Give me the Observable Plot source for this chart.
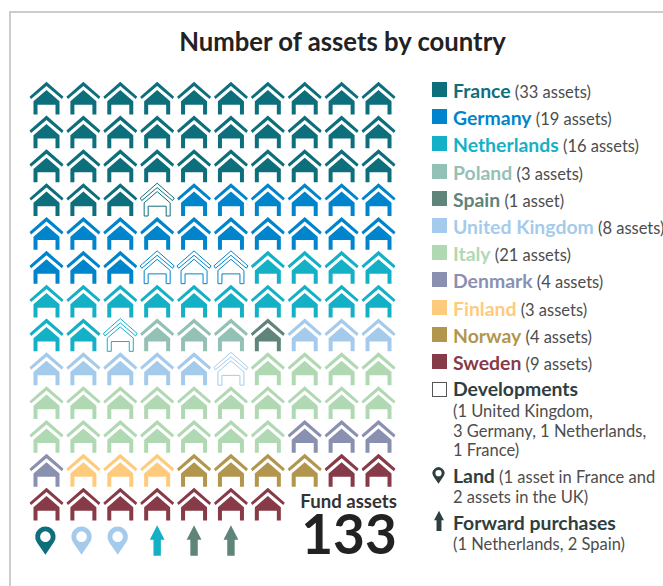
<!DOCTYPE html>
<html><head><meta charset="utf-8">
<script src="https://cdn.jsdelivr.net/npm/d3@7"></script>
<script src="https://cdn.jsdelivr.net/npm/@observablehq/plot@0.6"></script>
<style>
html,body{margin:0;padding:0;background:#fff;}
#page{position:relative;width:663px;height:586px;overflow:hidden;font-family:Lato,sans-serif;color:#4d4d4d;}
#frame{position:absolute;left:9px;top:11px;width:700px;height:700px;border:2px solid #ccc;box-sizing:border-box;}
#chart{position:absolute;left:0;top:0;}
#title{position:absolute;left:0;width:685px;top:24.5px;text-align:center;font-weight:700;font-size:25.7px;color:#222;line-height:32px;white-space:nowrap;}
.row{position:absolute;left:453px;white-space:nowrap;font-size:16.5px;line-height:24px;}
.row b{font-size:19.4px;font-weight:700;}
.sw{position:absolute;left:432px;width:15px;height:15px;box-sizing:border-box;}
.ic{position:absolute;}
</style></head><body>
<div id="page"><div id="frame"></div><div id="chart"></div><div id="title">Number of assets by country</div><div id="legend"></div></div>
<script>
const countries=["France","Germany","Netherlands","Poland","Spain","United Kingdom","Italy","Denmark","Finland","Norway","Sweden"];
const assets=[33,19,16,3,1,8,21,4,3,4,9];
const developments=[1,3,1,0,0,1,0,0,0,0,0];
const colors=["#0e6f7c","#0085cc","#14b1c6","#94c1b6","#5f8479","#a5cbec","#b0d9b3","#8a90b0","#fecb7c","#b2964e","#873a47"];
const land=["France","United Kingdom","United Kingdom"];
const forward=["Netherlands","Spain","Spain"];
const fundTotal=133;
const perRow=10;

function poly(c,p){p.forEach((q,i)=>i?c.lineTo(q[0],q[1]):c.moveTo(q[0],q[1]));c.closePath();}
const house={draw(c){
  poly(c,[[0,-16.4],[17,-1.4],[15.4,1],[0,-12],[-15.4,1],[-17,-1.4]]);
  poly(c,[[0,-8],[13,3.2],[13,16.4],[9,16.4],[9,6.6],[-9,6.6],[-9,16.4],[-13,16.4],[-13,3.2]]);
}};
const pin={draw(c,s){const k=Math.sqrt(s)/16;
  c.moveTo(0,14*k);c.lineTo(-8.6*k,1.5*k);c.arc(0,-4*k,10.2*k,Math.PI*0.82,Math.PI*2.18);c.closePath();
  c.moveTo(5.3*k,-4*k);c.arc(0,-4*k,5.3*k,0,-Math.PI*2,true);c.closePath();
}};
const arrow={draw(c,s){const k=Math.sqrt(s)/16;
  poly(c,[[0,-15.5*k],[7.4*k,-1*k],[3.7*k,-1*k],[3.7*k,15*k],[-3.7*k,15*k],[-3.7*k,-1*k],[-7.4*k,-1*k]]);
}};

const cells=[];
countries.forEach((name,i)=>{
  for(let n=0;n<assets[i];n++)cells.push({name,dev:false});
  for(let n=0;n<developments[i];n++)cells.push({name,dev:true});
});
cells.forEach((d,i)=>{d.col=i%perRow;d.row=Math.floor(i/perRow);});
const iconRow=13.08;
const landItems=land.map((name,i)=>({name,col:i*0.98-0.03,row:iconRow}));
const forwardItems=forward.map((name,i)=>({name,col:i+3,row:iconRow}));

const chart=Plot.plot({
  width:663,height:586,margin:0,
  style:{background:"transparent",overflow:"visible"},
  x:{axis:null,domain:[0,9],range:[46,378]},
  y:{axis:null,domain:[0,12],range:[97.6,503.6]},
  color:{domain:countries,range:colors},
  marks:[
    Plot.dot(cells.filter(d=>!d.dev),{x:"col",y:"row",fill:"name",stroke:"none",symbol:house,r:10}),
    Plot.dot(cells.filter(d=>d.dev),{x:"col",y:"row",fill:"#fff",stroke:"name",strokeWidth:1,symbol:house,r:10}),
    Plot.dot(landItems,{x:"col",y:"row",fill:"name",stroke:"none",symbol:pin,r:9.03}),
    Plot.dot(forwardItems,{x:"col",y:"row",fill:"name",stroke:"none",symbol:arrow,r:9.03}),
    Plot.text(["Fund assets"],{x:8.19,y:11.93,text:d=>d,fontSize:18.6,fontWeight:700,fill:"#333",fontFamily:"Lato"}),
    Plot.text([fundTotal],{x:8.2,y:12.96,text:d=>String(d),fontSize:55,fontWeight:700,fill:"#222",fontFamily:"Lato"})
  ]
});
document.getElementById("chart").append(chart);

const leg=document.getElementById("legend");
countries.forEach((n,i)=>{
  const s=document.createElement("div");s.className="sw";s.style.top=Math.round(82+27.2*i)+"px";s.style.background=colors[i];leg.append(s);
  const r=document.createElement("div");r.className="row";r.style.top=(79+27.2*i)+"px";
  const b=document.createElement("b");b.textContent=n;b.style.color=colors[i];
  r.append(b," ("+assets[i]+(assets[i]===1?" asset)":" assets)"));leg.append(r);
});
function line(center,html){
  const r=document.createElement("div");r.className="row";r.style.top=(center-12)+"px";r.innerHTML=html;leg.append(r);
}
const B=t=>"<b style='color:#2f3e3e'>"+t+"</b>";
const sw=document.createElement("div");sw.className="sw";sw.style.cssText="top:382px;border:1.5px solid #555;background:#fff";leg.append(sw);
line(389,B("Developments"));
line(410.5,"(1 United Kingdom,");
line(431,"3 Germany, 1 Netherlands,");
line(450,"1 France)");
line(476,B("Land")+" (1 asset in France and");
line(497,"2 assets in the UK)");
line(523,B("Forward purchases"));
line(544,"(1 Netherlands, 2 Spain)");
function icon(type,left,top,size){
  const d=d3.symbol(type,256)();
  const el=document.createElementNS("http://www.w3.org/2000/svg","svg");
  el.setAttribute("class","ic");el.setAttribute("width",size);el.setAttribute("height",size);el.setAttribute("viewBox","-18 -18 36 36");
  el.style.left=left+"px";el.style.top=top+"px";
  el.innerHTML="<path fill='#2f3e3e' d='"+d+"'/>";leg.append(el);
}
icon(pin,428,465,21);icon(arrow,426.5,509,24);
</script></body></html>
